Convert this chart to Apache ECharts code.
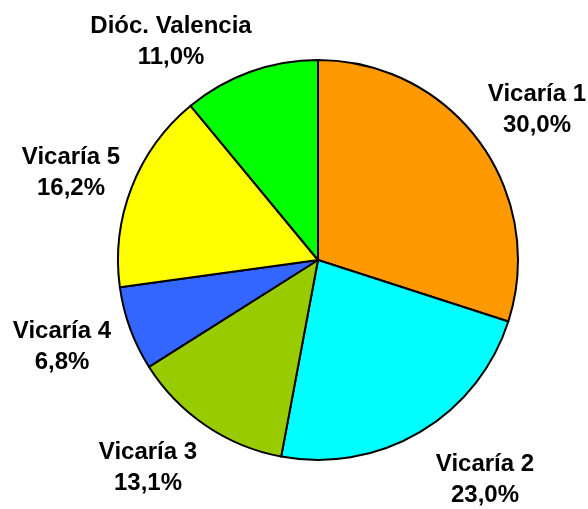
<!DOCTYPE html>
<html>
<head>
<meta charset="utf-8">
<script src="https://cdn.jsdelivr.net/npm/echarts@6/dist/echarts.min.js"></script>
<style>
  html, body { margin: 0; padding: 0; background: #fff; }
  #chart { width: 588px; height: 509px; }
</style>
</head>
<body>
<div id="chart"></div>
<script>
  // datos
  var names = ['Vicaría 1', 'Vicaría 2', 'Vicaría 3', 'Vicaría 4', 'Vicaría 5', 'Dióc. Valencia']
  var values = [30.0, 23.0, 13.1, 6.8, 16.2, 11.0]
  var colors = ['#FF9900', '#00FFFF', '#99CC00', '#3366FF', '#FFFF00', '#00FF00']

  // posición de cada etiqueta (centro del bloque de texto)
  var labelPos = [[537, 110], [485, 480], [148, 468], [62, 347], [71, 173], [171, 42]]

  var chart = echarts.init(document.getElementById('chart'))
  var option = {
    animation: false,
    series: [{
      type: 'pie',
      center: [318, 260],
      radius: 200,
      startAngle: 90,
      clockwise: true,
      data: names.map(function (n, i) {
        return { name: n, value: values[i], itemStyle: { color: colors[i] } }
      }),
      itemStyle: {
        borderColor: '#000',
        borderWidth: 2
      },
      label: {
        show: true,
        position: 'outside',
        color: '#000',
        fontFamily: 'Liberation Sans, Arial, sans-serif',
        fontWeight: 'bold',
        fontSize: 24,
        lineHeight: 31,
        overflow: 'none',
        formatter: function (p) {
          return p.name + '\n' + p.value.toFixed(1).replace('.', ',') + '%'
        }
      },
      labelLine: { show: false },
      labelLayout: function (p) {
        var pos = labelPos[p.dataIndex]
        return { x: pos[0], y: pos[1], align: 'center', verticalAlign: 'middle' }
      },
      emphasis: { disabled: true }
    }]
  }
  chart.setOption(option)
</script>
</body>
</html>
